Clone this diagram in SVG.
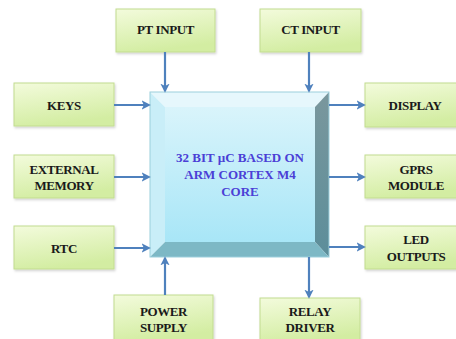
<svg xmlns="http://www.w3.org/2000/svg" width="456" height="339" viewBox="0 0 456 339">
<defs>
<linearGradient id="gBox" x1="0" y1="0" x2="0.3" y2="1">
<stop offset="0" stop-color="#f3fbdc"/>
<stop offset="1" stop-color="#d3eda2"/>
</linearGradient>
<linearGradient id="gFace" x1="0" y1="0" x2="0" y2="1">
<stop offset="0" stop-color="#d9f4fb"/>
<stop offset="1" stop-color="#a8e6f7"/>
</linearGradient>
<linearGradient id="gRight" x1="0" y1="0" x2="0" y2="1">
<stop offset="0" stop-color="#7a979d"/>
<stop offset="1" stop-color="#5c8e9a"/>
</linearGradient>
<filter id="sh" x="-10%" y="-10%" width="125%" height="130%">
<feDropShadow dx="1" dy="1.5" stdDeviation="1" flood-color="#000" flood-opacity="0.18"/>
</filter>
<marker id="ah" viewBox="0 0 10 10" refX="8" refY="5" markerWidth="4.2" markerHeight="4.2" orient="auto" markerUnits="strokeWidth">
<path d="M0,0 L10,5 L0,10 L2.5,5 Z" fill="#4f81bd"/>
</marker>
<style>
.box{fill:url(#gBox);stroke:#c2dc90;stroke-width:1;filter:url(#sh)}
.t{font-family:"Liberation Serif","Times New Roman",serif;font-weight:bold;font-size:13px;fill:#1a1a1a;text-anchor:middle;letter-spacing:-0.4px}
.ct{font-family:"Liberation Serif","Times New Roman",serif;font-weight:bold;font-size:13px;fill:#4b3fd6;text-anchor:middle}
.c{stroke:#4f81bd;stroke-width:2.2;fill:none;marker-end:url(#ah)}
</style>
</defs>

<g id="core">
<polygon points="150,92 329,92 315,107 165,107" fill="#e6f7fc"/>
<polygon points="150,92 165,107 165,242 150,257" fill="#c9eef8"/>
<polygon points="329,92 329,257 315,242 315,107" fill="url(#gRight)"/>
<polygon points="150,257 165,242 315,242 329,257" fill="#7db8c5"/>
<rect x="165" y="107" width="150" height="135" fill="url(#gFace)"/>
<rect x="150" y="92" width="179" height="165" fill="none" stroke="#9ccfdc" stroke-width="1"/>
<text class="ct" x="240" y="162">32 BIT µC BASED ON</text>
<text class="ct" x="240" y="179">ARM CORTEX M4</text>
<text class="ct" x="240" y="196">CORE</text>
</g>

<g id="pt-input"><rect class="box" x="116" y="9" width="99" height="43"/><text class="t" x="165.5" y="34">PT INPUT</text></g>
<g id="ct-input"><rect class="box" x="260" y="9" width="101" height="43"/><text class="t" x="310.5" y="34">CT INPUT</text></g>
<g id="keys"><rect class="box" x="14" y="83" width="100" height="43"/><text class="t" x="64" y="110">KEYS</text></g>
<g id="external-memory"><rect class="box" x="14" y="155" width="100" height="43"/><text class="t" x="64" y="174">EXTERNAL</text><text class="t" x="64" y="190">MEMORY</text></g>
<g id="rtc"><rect class="box" x="14" y="226" width="100" height="43"/><text class="t" x="64" y="253">RTC</text></g>
<g id="power-supply"><rect class="box" x="114" y="295" width="99" height="46"/><text class="t" x="163.5" y="316">POWER</text><text class="t" x="163.5" y="332">SUPPLY</text></g>
<g id="display"><rect class="box" x="365" y="83" width="101" height="44"/><text class="t" x="415" y="110">DISPLAY</text></g>
<g id="gprs-module"><rect class="box" x="365" y="155" width="101" height="43"/><text class="t" x="416" y="174">GPRS</text><text class="t" x="416" y="190">MODULE</text></g>
<g id="led-outputs"><rect class="box" x="365" y="226" width="101" height="43"/><text class="t" x="416" y="244">LED</text><text class="t" x="416" y="261">OUTPUTS</text></g>
<g id="relay-driver"><rect class="box" x="260" y="298" width="100" height="45"/><text class="t" x="310" y="316">RELAY</text><text class="t" x="310" y="332">DRIVER</text></g>

<g id="connectors">
<line class="c" x1="165" y1="52" x2="165" y2="91"/>
<line class="c" x1="309" y1="52" x2="309" y2="91"/>
<line class="c" x1="114" y1="105" x2="149" y2="105"/>
<line class="c" x1="114" y1="177" x2="149" y2="177"/>
<line class="c" x1="114" y1="248" x2="149" y2="248"/>
<line class="c" x1="165" y1="295" x2="165" y2="258"/>
<line class="c" x1="329" y1="105" x2="364" y2="105"/>
<line class="c" x1="329" y1="177" x2="364" y2="177"/>
<line class="c" x1="329" y1="247" x2="364" y2="247"/>
<line class="c" x1="309" y1="257" x2="309" y2="297"/>
</g>
</svg>
